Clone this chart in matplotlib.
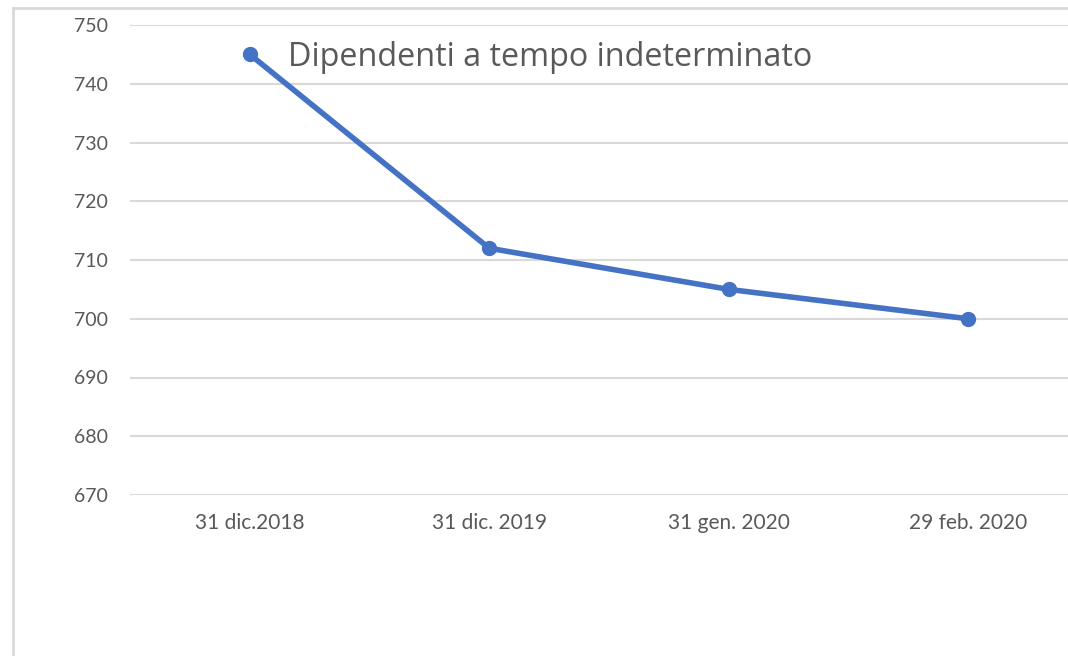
import matplotlib
matplotlib.use("Agg")
import matplotlib.pyplot as plt
from matplotlib.lines import Line2D

### data
dates = ["31 dic.2018", "31 dic. 2019", "31 gen. 2020", "29 feb. 2020"]
dipendenti = [745, 712, 705, 700]
yticks = [670, 680, 690, 700, 710, 720, 730, 740, 750]
title = "Dipendenti a tempo indeterminato"

blue = "#4472C4"
grey_text = "#595959"
grid_col = "#D9D9D9"

fig = plt.figure(figsize=(10.68, 6.56), dpi=100)
# chart is cut off on the right in the original, so the axes run past the figure edge
ax = fig.add_axes([130 / 1068, 1 - 495 / 656, 958 / 1068, 470 / 656])

x = list(range(len(dates)))
ax.plot(x, dipendenti, color=blue, lw=4, marker="o", markersize=10, zorder=3,
        solid_capstyle="round")

ax.set_xlim(-0.5, len(dates) - 0.5)
ax.set_ylim(yticks[0], yticks[-1])
ax.set_yticks(yticks)
ax.set_yticklabels([str(v) for v in yticks], fontfamily="Lato", fontsize=14, color=grey_text)
ax.set_xticks(x)
ax.set_xticklabels(dates, fontfamily="Lato", fontsize=15, color=grey_text)
ax.tick_params(axis="both", length=0)
ax.tick_params(axis="y", pad=16)
ax.tick_params(axis="x", pad=13)
ax.grid(axis="y", color=grid_col, lw=1.5)
ax.set_axisbelow(True)
for s in ax.spines.values():
    s.set_visible(False)

ax.text(288 / 1068, 1 - 57 / 656, title, transform=fig.transFigure, ha="left", va="center",
        fontfamily="Open Sans", fontsize=23.3, color=grey_text)

# outer chart frame (left and top edges visible)
fig.add_artist(Line2D([13 / 1068, 13 / 1068], [0, 1 - 8 / 656], transform=fig.transFigure,
                      color=grid_col, lw=2))
fig.add_artist(Line2D([13 / 1068, 1], [1 - 8 / 656, 1 - 8 / 656], transform=fig.transFigure,
                      color=grid_col, lw=2))

fig.savefig("out.png", dpi=100)
